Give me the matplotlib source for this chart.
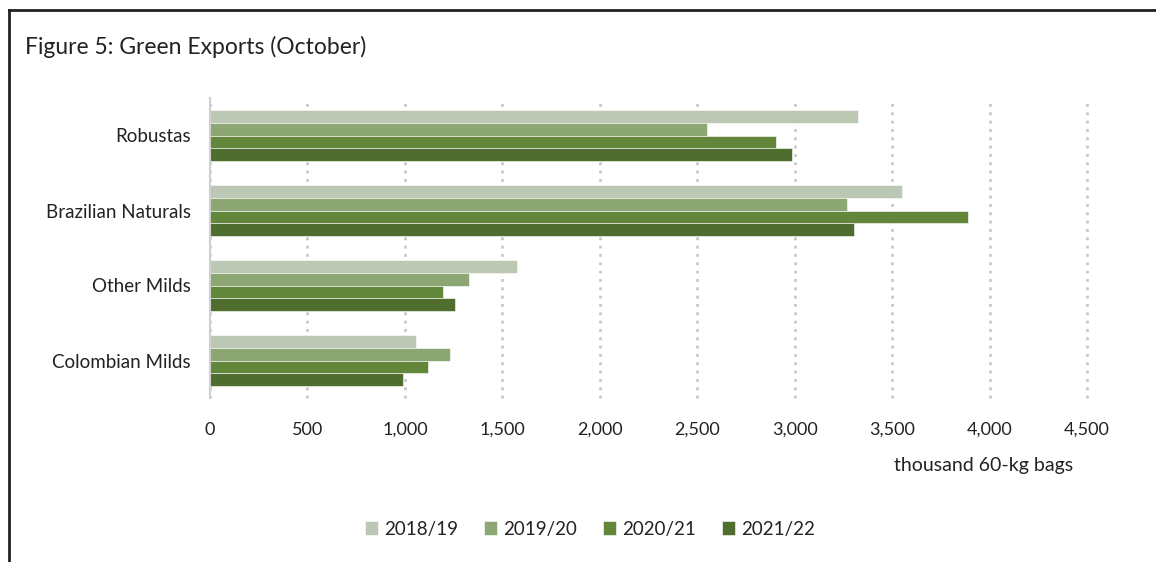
import numpy as np
import matplotlib.pyplot as plt
from matplotlib.lines import Line2D

plt.rcParams['font.family'] = ['Lato', 'DejaVu Sans']

# data (thousand 60-kg bags)
categories = ["Robustas", "Brazilian Naturals", "Other Milds", "Colombian Milds"]
seasons = ["2018/19", "2019/20", "2020/21", "2021/22"]
v_2018 = [3325, 3553, 1573, 1058]
v_2019 = [2551, 3267, 1329, 1231]
v_2020 = [2906, 3890, 1197, 1120]
v_2021 = [2986, 3306, 1257, 989]
colors = ["#bcc8b4", "#8ca674", "#62863a", "#4e6d2e"]
xticks = [0, 500, 1000, 1500, 2000, 2500, 3000, 3500, 4000, 4500]

series = [v_2018, v_2019, v_2020, v_2021]

fig = plt.figure(figsize=(11.56, 5.62), dpi=100)
ax = fig.add_axes([210 / 1156, 1 - 398 / 562, (1087 - 210) / 1156, 300 / 562])

# frame (left + top only visible in the reference)
fig.add_artist(Line2D([9 / 1156, 9 / 1156], [0, 1 - 10 / 562], transform=fig.transFigure,
                      color="#222222", lw=2))
fig.add_artist(Line2D([9 / 1156, 1], [1 - 10 / 562, 1 - 10 / 562], transform=fig.transFigure,
                      color="#222222", lw=2))

n = len(categories)
y = np.arange(n)[::-1]   # Robustas on top
h = 0.17
for i, (vals, c) in enumerate(zip(series, colors)):
    off = (1.5 - i) * h
    ax.barh(y + off, vals, height=h, color=c, edgecolor="white", linewidth=0.4,
            label=seasons[i], zorder=3)

ax.set_xlim(0, 4500)
ax.set_ylim(-0.5, n - 0.5)
ax.set_xticks(xticks)
ax.set_xticklabels(["{:,}".format(t) for t in xticks], fontsize=13, color="#222222")
ax.set_yticks(y)
ax.set_yticklabels(categories, fontsize=13.5, color="#222222")
ax.tick_params(axis="x", length=0, pad=17)
ax.tick_params(axis="y", length=0, pad=14)

ax.grid(axis="x", linestyle=(0, (1, 2)), color="#c8c8c8", linewidth=2, zorder=0)
for gl in ax.get_xgridlines():
    gl.set_clip_on(False)
for s in ["top", "right", "bottom"]:
    ax.spines[s].set_visible(False)
ax.spines["left"].set_color("#d0d0d0")
ax.spines["left"].set_linewidth(1.5)
ax.spines["left"].set_zorder(4)

fig.text(25 / 1156, 1 - 47 / 562, "Figure 5: Green Exports (October)", fontsize=16.5,
         va="center", ha="left", color="#222222")
fig.text(984 / 1156, 1 - 466 / 562, "thousand 60-kg bags", fontsize=14,
         va="center", ha="center", color="#222222")

fig.legend(loc="center", bbox_to_anchor=(590 / 1156, 1 - 529 / 562), ncol=4, frameon=False,
           fontsize=13.5, handlelength=0.7, handleheight=0.7, handletextpad=0.3,
           columnspacing=1.4, labelcolor="#222222")

fig.savefig("out.png", dpi=100, facecolor="white")
